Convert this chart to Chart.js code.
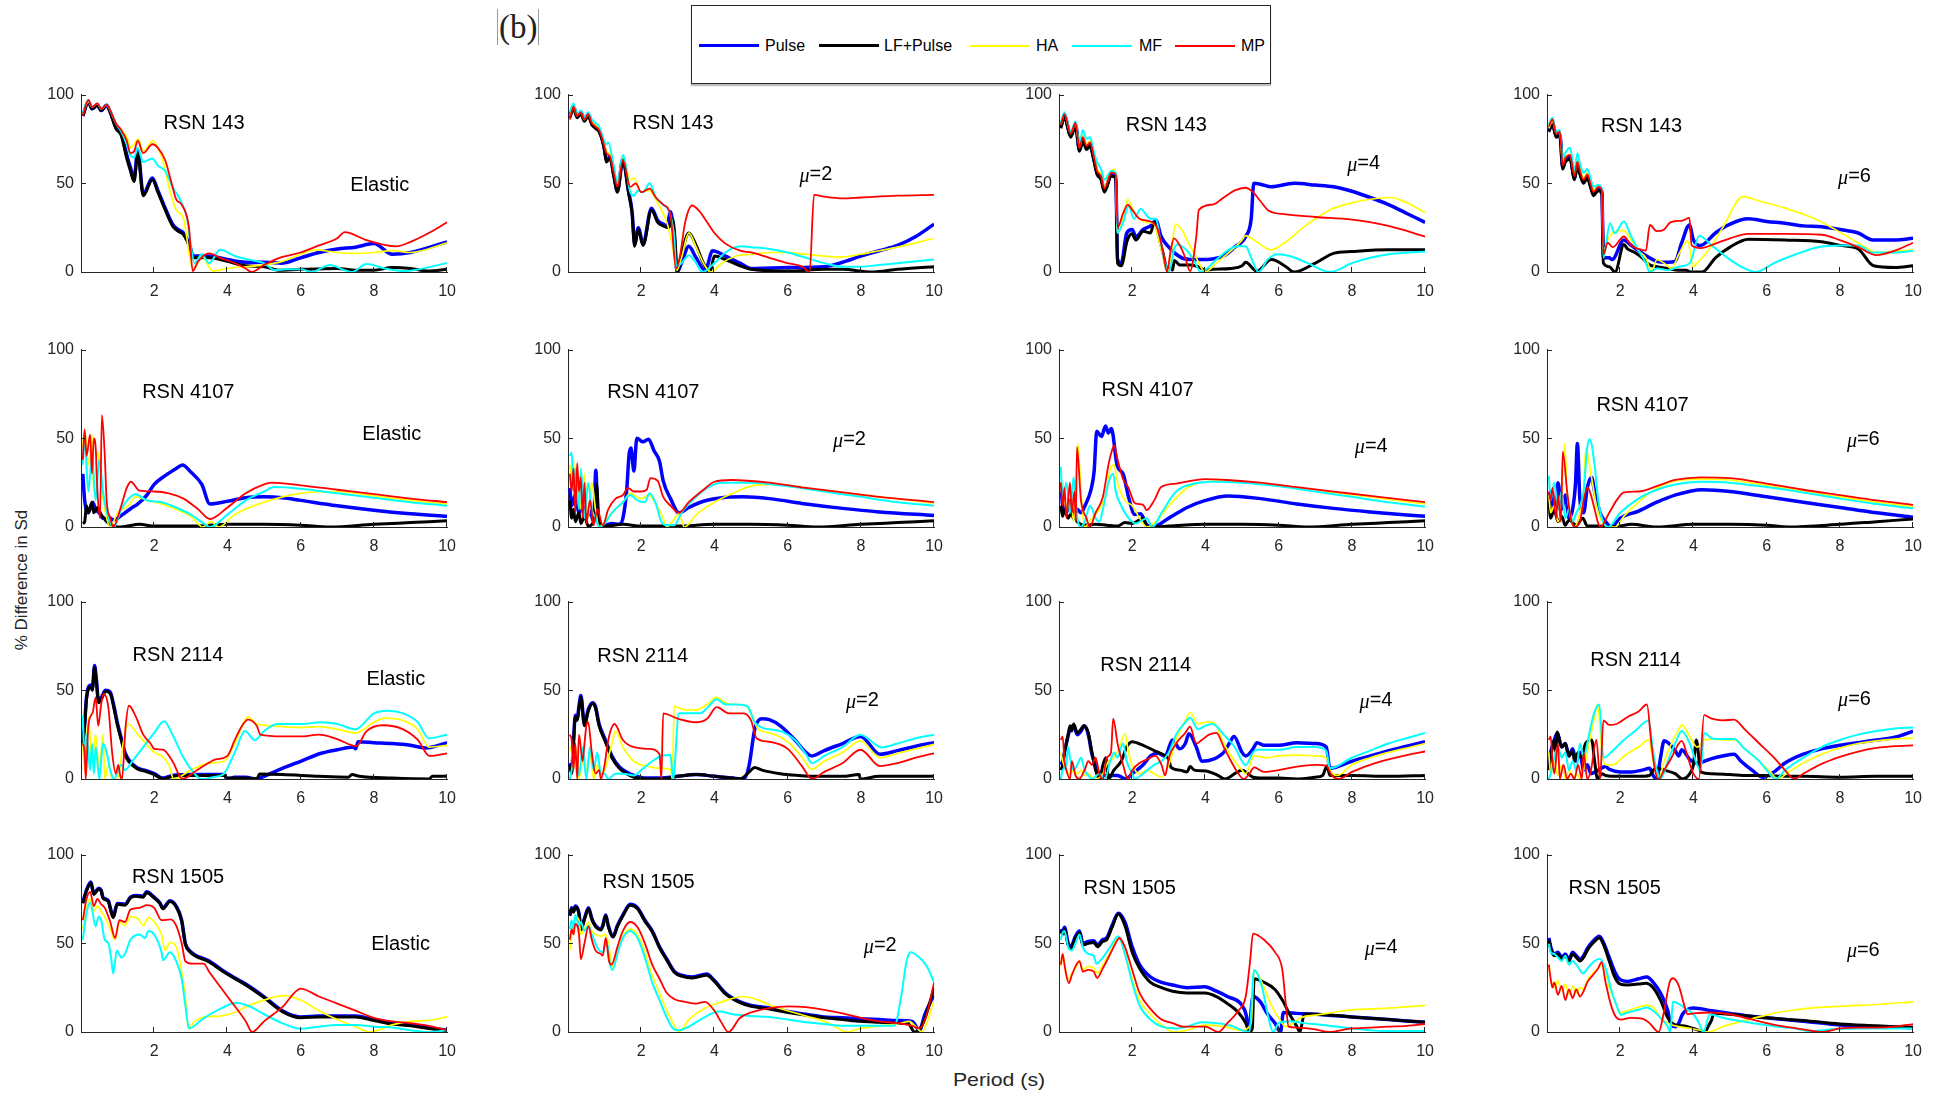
<!DOCTYPE html>
<html>
<head>
<meta charset="utf-8">
<script src="https://cdn.jsdelivr.net/npm/chart.js@4.4.0/dist/chart.umd.min.js"></script>
<style>
body{margin:0;background:#fff;font-family:"Liberation Sans",Arial,sans-serif;}
#page{position:relative;width:1945px;height:1094px;overflow:hidden;background:#fff;}
canvas{position:absolute;}
.legend{position:absolute;left:691px;top:5px;width:578px;height:77px;border:1px solid #262626;box-shadow:0 2px 1px #bdbdbd;background:#fff;}
.lg-line{position:absolute;height:3px;}
.lg-text{position:absolute;font-size:16px;color:#000;line-height:16px;}
.tag{position:absolute;left:497px;top:9px;font-family:"Liberation Serif",serif;font-size:33px;line-height:36px;color:#222;border-left:1px solid #999;border-right:1px solid #999;padding:0 1px;}
.ytitle{position:absolute;left:22px;top:580px;transform:translate(-50%,-50%) rotate(-90deg);font-size:17px;color:#262626;white-space:nowrap;}
.xtitle{position:absolute;left:999px;top:1080px;transform:translate(-50%,-50%) scaleX(1.12);font-size:19px;color:#262626;white-space:nowrap;}
</style>
</head>
<body>
<div id="page">
  <div class="tag">(b)</div>
  <div class="legend" id="legend"></div>
  <div class="ytitle">% Difference in Sd</div>
  <div class="xtitle">Period (s)</div>
</div>
<script>
// tick values and names
const xTicks = [2, 4, 6, 8, 10];
const yTicks = [0, 50, 100];
const seriesNames = ['Pulse', 'LF+Pulse', 'HA', 'MF', 'MP'];
const rsnNames = ['RSN 143', 'RSN 4107', 'RSN 2114', 'RSN 1505'];
const caseNames = ['Elastic', '2', '4', '6'];   // ductility mu (Elastic first)

// ---- RSN 143 ----
const rsn143_el_pulse = [[0.05,88],[0.2,96],[0.3,92],[0.45,94],[0.55,91],[0.7,94],[0.8,90],[0.95,82],[1.1,78],[1.25,66],[1.35,59],[1.45,53],[1.55,69],[1.7,44],[1.95,53],[2.1,46],[2.3,36],[2.5,27],[2.65,24],[2.8,22],[3.0,13],[3.05,9],[3.2,9],[3.5,9],[4.0,7],[4.5,5.5],[5.0,5.5],[5.5,5],[6.0,8],[6.5,11],[7.0,13],[7.5,14],[8.0,16],[8.5,10],[9.0,11],[10,17]];
const rsn143_el_lf = [[0.05,88],[0.2,96],[0.3,92],[0.45,94],[0.55,91],[0.7,94],[0.8,90],[0.95,81],[1.1,77],[1.25,64],[1.35,57],[1.45,51],[1.55,67],[1.7,43],[1.95,52],[2.1,45],[2.3,35],[2.5,26],[2.65,23],[2.8,21],[3.0,12],[3.05,8],[3.5,8],[4.0,6],[4.5,3.5],[5.0,3],[5.4,1],[6.0,1.5],[7.0,2],[7.5,1],[8.0,1],[8.5,2.5],[9.0,2],[9.5,0.5],[10,1.5]];
const rsn143_el_ha = [[0.05,89],[0.2,96],[0.3,93],[0.45,95],[0.55,92],[0.7,94],[0.8,91],[0.95,84],[1.1,80],[1.25,76],[1.35,70],[1.45,72],[1.56,75],[1.7,68],[1.96,74],[2.1,70],[2.25,62],[2.4,48],[2.6,35],[2.8,30],[3.0,5],[3.1,2],[3.3,9],[3.6,0.5],[4.0,2],[5.0,4],[5.5,6],[6.0,10],[6.4,12.5],[7.0,11],[7.5,10.5],[8.0,11],[8.5,12],[9.0,11],[10,16.5]];
const rsn143_el_mf = [[0.05,90],[0.2,97],[0.3,93],[0.45,95],[0.55,92],[0.7,94],[0.8,91],[0.95,84],[1.1,79],[1.25,72],[1.35,66],[1.45,64.5],[1.55,70],[1.7,62],[1.95,64],[2.1,60],[2.3,57],[2.5,48],[2.7,41],[2.9,30],[3.0,15],[3.1,5],[3.3,10],[3.5,5],[3.8,12.5],[4.2,9],[4.7,6.5],[5.0,5],[5.3,1],[5.6,1.5],[6.0,1.5],[6.3,0],[6.8,4],[7.2,1],[7.4,0],[7.8,4.5],[8.3,2],[8.8,0.5],[10,5]];
const rsn143_el_mp = [[0.05,88],[0.2,97],[0.3,93],[0.45,95],[0.55,92],[0.7,94],[0.8,91],[0.95,84],[1.1,80],[1.25,74],[1.35,67],[1.45,68],[1.55,74],[1.7,67],[1.95,72],[2.1,70],[2.3,63],[2.45,52],[2.6,41],[2.75,38],[2.95,25],[3.05,0.5],[3.2,6],[3.5,10.5],[3.8,8],[4.2,5],[4.5,2],[4.65,0],[5.0,4],[5.3,7],[5.5,8.5],[6.0,11],[6.5,15],[7.0,19],[7.2,22.5],[7.8,18],[8.6,14.5],[9.0,17],[9.5,22],[10,28]];

const rsn143_m2_pulse = [[0.05,88],[0.15,93],[0.25,88],[0.35,90],[0.45,86],[0.55,89],[0.65,84],[0.75,82],[0.85,80],[0.95,74],[1.0,69],[1.05,63],[1.15,65],[1.25,55],[1.35,46],[1.5,64],[1.65,46],[1.75,34],[1.82,16],[1.92,25],[2.05,16],[2.28,36],[2.45,29],[2.6,27],[2.7,26],[2.8,34],[2.9,20],[2.98,0],[3.1,5],[3.3,14.5],[3.5,8],[3.75,1],[3.95,12],[4.3,9],[4.7,5],[5.0,2],[6.0,2.5],[7.0,3],[7.5,5.5],[8.0,9],[8.5,12],[9.0,15],[9.5,20],[10,27]];
const rsn143_m2_lf = [[0.05,87],[0.15,92],[0.25,87],[0.35,89],[0.45,85],[0.55,88],[0.65,83],[0.75,81],[0.85,79],[0.95,73],[1.0,68],[1.05,62],[1.15,64],[1.25,54],[1.35,45],[1.5,63],[1.65,45],[1.75,33],[1.82,14.5],[1.92,24],[2.05,15],[2.28,35],[2.45,28],[2.6,26],[2.75,25],[2.85,30],[2.92,20],[2.98,0],[3.1,10],[3.3,22],[3.5,15],[3.7,5],[3.88,0],[4.0,9],[4.3,7],[4.7,3.5],[5.0,1.5],[6.0,0.5],[7.0,1.5],[7.5,1.5],[8.3,0],[9.0,1.5],[10,3]];
const rsn143_m2_ha = [[0.05,88],[0.15,93],[0.25,88],[0.35,90],[0.45,86],[0.55,89],[0.65,85],[0.75,83],[0.85,81],[0.95,76],[1.05,68],[1.15,66],[1.25,57],[1.35,50],[1.5,65],[1.7,52],[1.8,53],[2.0,45],[2.2,46],[2.5,37],[2.7,28],[2.85,15],[2.97,1],[3.1,8],[3.3,22],[3.5,14],[3.7,5],[3.9,0],[4.2,5],[4.6,9],[5.0,10],[5.5,11],[6.0,11],[6.5,10],[7.0,9],[7.5,8.5],[8.0,10],[8.5,12],[9.0,14],[10,19]];
const rsn143_m2_mf = [[0.05,90],[0.15,95],[0.25,89],[0.35,91],[0.45,87],[0.55,90],[0.65,86],[0.75,84],[0.85,82],[0.95,76],[1.05,72],[1.1,73],[1.25,60],[1.35,50],[1.5,66],[1.7,45],[1.8,43],[1.91,46],[2.05,45],[2.23,50],[2.4,42],[2.6,38],[2.8,32],[2.9,20],[2.96,3],[3.1,5],[3.3,9.5],[3.5,5],[3.66,0],[4.0,5],[4.3,11],[4.7,14.5],[5.0,14],[5.5,13],[6.0,11],[6.5,8],[7.0,5],[7.5,3],[8.0,3],[8.5,4],[9.0,5],[10,7]];
const rsn143_m2_mp = [[0.05,86],[0.15,93],[0.25,88],[0.35,90],[0.45,86],[0.55,89],[0.65,84],[0.75,82],[0.85,80],[0.95,74],[1.05,67],[1.15,65],[1.25,56],[1.35,48],[1.5,63],[1.7,48],[1.85,50],[2.0,45],[2.23,47],[2.4,42],[2.6,38],[2.8,32],[2.95,2],[3.05,8],[3.2,28],[3.39,37.5],[3.6,34],[3.8,28],[4.0,22],[4.3,16],[4.7,12],[5.0,11],[5.5,8],[6.0,5],[6.4,3],[6.6,0],[6.72,43.5],[7.0,42.5],[7.5,41.5],[8.0,42],[9.0,43],[10,43.5]];

const rsn143_m4_pulse = [[0.05,82],[0.15,88],[0.32,77],[0.45,83],[0.56,69],[0.65,75],[0.75,70],[0.85,72],[0.95,64],[1.04,56],[1.15,53],[1.24,46],[1.43,55],[1.55,54],[1.6,7],[1.7,5],[1.85,22],[2.0,24],[2.1,20],[2.3,24],[2.5,26],[2.65,29],[2.79,20],[3.0,14],[3.2,10],[3.42,7.5],[3.8,7],[4.22,7.5],[4.5,9],[4.8,14],[5.1,20],[5.25,30],[5.32,50],[5.5,49.5],[5.8,48],[6.42,50],[7.0,49],[7.5,48],[8.0,45.5],[8.5,42],[9.0,38],[9.5,33],[10,28]];
const rsn143_m4_lf = [[0.05,81],[0.15,87],[0.32,76],[0.45,82],[0.56,68],[0.65,74],[0.75,69],[0.85,71],[0.95,63],[1.04,55],[1.15,52],[1.24,45],[1.43,54],[1.55,53],[1.6,5],[1.7,3.5],[1.86,17.5],[1.99,21.5],[2.1,18],[2.3,23],[2.5,22],[2.6,28],[2.75,18],[2.85,10],[2.95,2],[3.05,3],[3.1,1],[3.15,6.5],[3.3,4],[3.6,4],[3.8,3],[4.0,1],[4.2,1.5],[4.7,2],[5.0,3.5],[5.1,5.5],[5.4,0.5],[5.8,7],[6.2,3],[6.42,0],[7.0,5],[7.5,10.5],[8.0,11.5],[9.0,12.5],[10,12.5]];
const rsn143_m4_ha = [[0.05,83],[0.15,89],[0.32,78],[0.45,84],[0.56,70],[0.65,77],[0.75,72],[0.85,74],[0.95,66],[1.04,58],[1.15,55],[1.24,48],[1.43,57],[1.55,58],[1.59,22],[1.75,30],[1.88,41],[2.0,36],[2.2,30],[2.4,28],[2.6,27],[2.7,20],[2.85,8],[2.95,0],[3.05,8],[3.18,27],[3.35,24],[3.5,18],[3.7,10],[3.9,2],[3.98,0],[4.3,5],[4.7,12],[5.0,18],[5.1,20.5],[5.4,17],[5.78,12.5],[6.2,17],[6.6,24],[7.0,30],[7.45,35.5],[8.0,39],[8.5,41],[9.07,42],[9.5,39],[10,33.5]];
const rsn143_m4_mf = [[0.05,84],[0.15,90],[0.32,79],[0.45,85],[0.56,72],[0.65,80],[0.75,75],[0.85,76],[0.95,68],[1.04,62],[1.15,58],[1.24,52],[1.43,57],[1.55,56],[1.59,22],[1.75,28],[1.9,37],[2.05,30],[2.23,35.5],[2.5,30],[2.65,30],[2.75,20],[2.9,5],[3.0,0],[3.15,13],[3.23,15.5],[3.5,12],[3.7,6],[3.87,0],[4.3,7],[4.6,12],[4.86,14.5],[5.1,14.5],[5.25,8],[5.45,0],[5.7,7],[5.97,10],[6.3,9],[6.8,5],[7.4,0],[8.0,5],[8.5,8],[9.0,10],[10,11.5]];
const rsn143_m4_mp = [[0.05,83],[0.15,89],[0.32,78],[0.45,84],[0.56,70],[0.65,76],[0.75,71],[0.85,73],[0.95,65],[1.04,57],[1.15,54],[1.24,47],[1.43,56],[1.55,55],[1.6,25],[1.75,33],[1.88,38],[2.0,35],[2.2,30],[2.4,29],[2.55,28],[2.7,24],[2.85,10],[2.95,0],[3.05,12],[3.14,19],[3.3,15],[3.45,8],[3.58,0.5],[3.75,20],[3.82,35],[4.2,38],[4.5,42],[4.8,46],[5.1,47.5],[5.3,45],[5.5,40],[5.73,34.5],[6.2,32.5],[7.0,31],[8.0,29.5],[9.0,26],[10,20]];

const rsn143_m6_pulse = [[0.05,80],[0.15,84],[0.25,77],[0.35,78],[0.43,59],[0.5,63],[0.63,64.5],[0.75,53],[0.83,61],[0.9,56],[1.0,51],[1.1,54],[1.2,48],[1.27,44],[1.4,47],[1.5,45],[1.54,8],[1.7,8],[1.78,7],[2.1,18],[2.3,15],[2.5,12],[2.8,8],[3.0,6],[3.3,5.5],[3.5,6],[3.68,16.5],[3.89,26.5],[4.0,18],[4.2,15],[4.6,22],[5.0,27],[5.5,30],[6.0,28.5],[6.5,27.5],[7.0,26],[7.5,25.5],[8.0,24],[8.5,22],[8.9,18],[9.5,18],[10,19]];
const rsn143_m6_lf = [[0.05,79],[0.15,83],[0.25,76],[0.35,77],[0.43,58],[0.5,62],[0.63,63.5],[0.75,52],[0.83,60],[0.9,55],[1.0,50],[1.1,53],[1.2,47],[1.27,43],[1.4,46],[1.5,44],[1.54,5],[1.7,3],[1.86,0],[2.1,15.5],[2.2,13],[2.4,11],[2.6,8],[2.8,4],[3.0,3],[3.3,2],[3.6,1],[3.8,1],[3.92,0],[4.24,0],[4.6,8],[5.0,14],[5.5,18.5],[6.5,18],[7.5,17],[8.0,15],[8.5,13],[8.92,3.5],[9.5,2.5],[10,3.5]];
const rsn143_m6_ha = [[0.05,81],[0.15,85],[0.25,78],[0.35,79],[0.43,61],[0.5,65],[0.63,66],[0.75,55],[0.83,63],[0.9,58],[1.0,53],[1.1,56],[1.2,50],[1.27,46],[1.4,49],[1.5,47],[1.54,12],[1.7,20],[2.1,23.5],[2.3,18],[2.5,12],[2.7,8],[2.86,0],[3.0,7],[3.2,5],[3.4,2],[3.6,10],[3.84,17.5],[4.0,3],[4.1,5],[4.4,12],[4.8,25],[5.35,42.5],[5.8,40],[6.5,36],[7.2,31],[7.7,26],[8.2,20],[8.7,14],[9.0,11],[10,12.5]];
const rsn143_m6_mf = [[0.05,83],[0.15,87],[0.25,79],[0.35,80],[0.43,63],[0.5,67],[0.63,70],[0.75,57],[0.83,67],[0.9,61],[1.0,56],[1.1,58],[1.2,52],[1.27,48],[1.4,49],[1.5,47],[1.54,8],[1.72,27.5],[1.85,22],[2.1,28.5],[2.3,20],[2.5,12],[2.7,5],[2.8,0],[3.0,2],[3.3,1],[3.6,3],[3.9,5],[4.16,20.5],[4.5,15],[5.0,7],[5.4,2],[5.71,0],[6.2,5],[6.8,10],[7.4,14],[8.0,15],[8.5,15],[8.9,11],[9.5,11],[10,12]];
const rsn143_m6_mp = [[0.05,82],[0.15,86],[0.25,78],[0.35,79],[0.43,60],[0.5,64],[0.63,66],[0.75,54],[0.83,62],[0.9,57],[1.0,52],[1.1,55],[1.2,49],[1.27,45],[1.4,48],[1.5,46],[1.54,10],[1.66,16.5],[1.8,14],[2.1,20],[2.3,15],[2.5,13],[2.7,12],[2.81,26.5],[3.0,23],[3.2,24],[3.37,28],[3.7,29],[3.89,30.5],[3.95,15],[4.2,13.5],[4.6,16],[5.0,19],[5.5,21.5],[6.5,21.5],[7.5,21],[8.0,18],[8.5,14],[9.0,9.5],[9.5,12],[10,16.5]];

// ---- RSN 4107 ----
const rsn4107_el_pulse = [[0.05,30],[0.1,15],[0.2,8],[0.32,14],[0.4,10],[0.5,8],[0.6,5],[0.8,5],[0.88,4],[1.0,5],[1.2,8],[1.4,11],[1.52,12.5],[1.8,18],[2.0,24],[2.3,29],[2.6,33],[2.77,35],[3.0,31],[3.3,24],[3.52,13],[4.0,14.5],[4.5,16.5],[5.0,17],[5.5,16.5],[6.0,15],[7.0,12],[8.0,9.5],[9.0,7.5],[10,6]];
const rsn4107_el_lf = [[0.05,2],[0.1,3],[0.15,12],[0.2,8],[0.3,14],[0.35,8],[0.45,11],[0.55,7],[0.7,3],[0.9,0.5],[1.0,0],[1.2,0.3],[1.6,1.5],[2.0,0.5],[3.0,0.5],[4.0,1.5],[5.0,1.5],[6.0,1],[6.8,0],[8.0,1.5],[9.0,2.5],[10,3.5]];
const rsn4107_el_ha = [[0.05,45],[0.1,55],[0.2,35],[0.3,52],[0.35,20],[0.45,43],[0.55,25],[0.65,10],[0.8,0],[1.0,8],[1.3,12],[1.5,17],[1.8,15],[2.2,13],[2.6,10],[3.0,6],[3.33,0],[3.55,3],[3.76,0],[4.2,7],[5.0,14],[6.0,19],[7.0,20],[8.0,17.5],[9.0,15],[10,13]];
const rsn4107_el_mf = [[0.05,35],[0.1,50],[0.2,20],[0.3,40],[0.4,15],[0.5,38],[0.6,20],[0.75,5],[0.9,0],[1.1,10],[1.3,16],[1.49,18.5],[1.8,15],[2.2,14],[2.6,11],[3.0,7],[3.35,2],[3.52,0],[4.0,7],[4.5,15],[5.0,20],[5.28,22.5],[6.0,21.5],[7.0,19],[8.0,16.5],[9.0,14],[10,12]];
const rsn4107_el_mp = [[0.05,38],[0.1,55],[0.15,40],[0.25,52],[0.3,30],[0.35,50],[0.4,45],[0.45,20],[0.52,5],[0.57,63],[0.65,40],[0.7,15],[0.8,5],[0.88,0],[1.1,12],[1.25,22],[1.36,25.5],[1.6,20.5],[2.0,20],[2.4,19],[2.8,16],[3.2,10],[3.52,4.5],[4.0,11],[4.5,19],[5.0,24],[5.2,25],[6.0,23.5],[7.0,21],[8.0,18.5],[9.0,16],[10,14]];

const rsn4107_m2_pulse = [[0.05,22],[0.1,12],[0.2,18],[0.3,8],[0.4,12],[0.5,5],[0.6,9],[0.7,3],[0.76,32],[0.82,3],[1.0,1],[1.2,2],[1.4,1.5],[1.5,5],[1.6,20],[1.67,41],[1.72,44.5],[1.8,31.5],[1.88,50],[2.05,48],[2.2,49.5],[2.35,43],[2.5,37],[2.6,26],[2.8,16],[3.03,8],[3.3,11],[3.7,14.5],[4.2,16.5],[4.78,17],[5.5,16],[6.5,13],[7.5,10.5],[8.5,8.5],[10,6.5]];
const rsn4107_m2_lf = [[0.05,15],[0.1,5],[0.15,10],[0.2,3],[0.3,8],[0.35,2],[0.45,6],[0.55,0.5],[0.7,3],[0.78,24],[0.85,3],[1.0,0.5],[1.5,1.5],[2.0,0.5],[3.0,0.5],[4.0,1.5],[5.0,1.5],[6.0,1],[6.8,0],[8.0,1.5],[9.0,2.5],[10,3.5]];
const rsn4107_m2_ha = [[0.05,35],[0.1,25],[0.15,38],[0.2,15],[0.25,30],[0.35,10],[0.45,30],[0.55,5],[0.65,25],[0.75,10],[0.85,0],[1.0,3],[1.2,8],[1.5,14],[1.7,19],[2.0,16],[2.2,18],[2.4,13],[2.6,5],[2.7,0],[2.85,3],[3.03,7.5],[3.18,0],[3.5,7],[4.0,14],[4.5,19],[5.0,23],[5.5,24],[6.5,22],[7.5,19.5],[8.5,17],[10,13.5]];
const rsn4107_m2_mf = [[0.05,40],[0.1,42],[0.15,20],[0.2,33],[0.3,10],[0.35,33],[0.45,5],[0.55,25],[0.65,10],[0.75,5],[0.85,0],[1.0,2],[1.2,8],[1.5,14],[1.7,18],[1.9,15],[2.1,14],[2.23,19],[2.4,13],[2.55,3],[2.7,1],[2.9,1],[3.1,8],[3.4,15],[3.8,22],[4.22,25],[5.0,25],[6.0,23],[7.0,20],[8.0,17],[9.0,14],[10,12]];
const rsn4107_m2_mp = [[0.05,30],[0.1,20],[0.15,33],[0.2,8],[0.25,36],[0.3,20],[0.35,28],[0.4,5],[0.45,25],[0.5,2],[0.6,15],[0.7,1],[0.8,10],[0.95,1],[1.1,10],[1.3,16],[1.5,18],[1.64,22],[1.8,20],[2.0,20],[2.15,21],[2.25,27.5],[2.45,26],[2.6,17],[2.8,12],[3.03,8],[3.3,14],[3.7,21],[4.0,25.5],[4.46,26.5],[5.5,25],[6.5,22],[7.5,19.5],[8.5,17],[10,14]];

const rsn4107_m4_pulse = [[0.05,25],[0.1,12],[0.2,8],[0.3,15],[0.4,5],[0.5,10],[0.6,8],[0.72,12.5],[0.88,21.5],[0.96,31.5],[1.03,54],[1.16,51],[1.27,57],[1.35,53],[1.43,55.5],[1.59,34.5],[1.75,30],[1.91,16],[2.07,7],[2.23,7.5],[2.39,1.5],[2.55,0],[3.0,5],[3.5,11],[4.0,15],[4.62,17.5],[5.5,16],[6.5,13],[7.5,10.5],[8.5,8.5],[10,6]];
const rsn4107_m4_lf = [[0.05,12],[0.1,6],[0.15,10],[0.25,5],[0.35,8],[0.5,3],[0.7,1],[1.0,1.5],[1.3,1],[1.6,0.5],[1.8,2.5],[2.0,2],[2.2,4],[2.3,5],[2.4,0],[3.0,0.5],[4.0,1.5],[5.0,1.5],[6.0,1],[6.8,0],[8.0,1.5],[9.0,2.5],[10,3.5]];
const rsn4107_m4_ha = [[0.05,20],[0.1,25],[0.2,10],[0.3,22],[0.4,3],[0.45,15],[0.51,47],[0.6,20],[0.7,0],[0.9,5],[1.1,10],[1.3,20],[1.39,32],[1.5,35],[1.6,25],[1.8,15],[2.0,12],[2.2,5],[2.4,0],[2.7,4],[3.0,12],[3.5,22],[4.0,25.5],[4.6,26],[5.5,24.5],[6.5,22],[7.5,19.5],[8.5,17],[10,13]];
const rsn4107_m4_mf = [[0.05,34],[0.1,15],[0.2,25],[0.3,8],[0.4,28],[0.5,5],[0.6,0],[0.7,3],[0.85,12],[1.0,5],[1.1,3],[1.2,10],[1.35,25],[1.48,30],[1.55,20],[1.7,12],[1.9,5],[2.1,2],[2.4,5],[2.55,0],[2.8,8],[3.2,20],[3.6,24],[4.2,25.5],[5.0,25],[6.0,23],[7.0,20],[8.0,17],[9.0,14],[10,11.5]];
const rsn4107_m4_mp = [[0.05,25],[0.1,12],[0.15,22],[0.2,5],[0.3,25],[0.35,8],[0.42,20],[0.46,3],[0.49,45],[0.6,15],[0.75,5],[0.84,0],[1.0,8],[1.2,17],[1.35,35],[1.43,42],[1.51,46],[1.6,38],[1.75,27],[1.9,22],[2.05,14],[2.15,13],[2.3,12.5],[2.39,9.5],[2.6,15],[2.79,22.5],[3.2,24.5],[3.6,26],[4.0,27],[4.6,26.5],[5.5,25],[6.5,22.5],[7.5,20],[8.5,17.5],[10,14]];

const rsn4107_m6_pulse = [[0.05,12],[0.1,20],[0.2,8],[0.3,25],[0.4,10],[0.5,18],[0.6,5],[0.7,10],[0.78,25],[0.83,47],[0.9,15],[1.0,8],[1.1,22],[1.22,28],[1.3,20],[1.45,8],[1.6,3],[1.75,0],[2.0,5],[2.5,9],[3.0,14],[3.5,18],[4.24,21],[5.0,20],[6.0,17],[7.0,14],[8.0,11],[9.0,8],[10,5.5]];
const rsn4107_m6_lf = [[0.05,15],[0.1,5],[0.2,10],[0.3,3],[0.4,6],[0.5,1],[0.6,4],[0.8,1],[0.98,5],[1.1,0.5],[1.4,0.5],[1.7,0],[2.0,0.5],[2.3,1.5],[3.0,0],[4.0,1.5],[5.0,1.5],[6.0,1],[6.6,0],[8.0,1.5],[9.0,3],[10,4.5]];
const rsn4107_m6_ha = [[0.05,18],[0.1,8],[0.2,12],[0.3,3],[0.4,15],[0.48,47],[0.55,20],[0.65,5],[0.75,0],[0.9,8],[1.0,20],[1.06,44.5],[1.2,30],[1.35,12],[1.5,3],[1.7,0],[1.86,0],[2.1,6],[2.5,14],[3.0,22],[3.5,26],[4.2,27],[5.0,26.5],[6.0,23.5],[7.0,20.5],[8.0,17],[9.0,14],[10,11.5]];
const rsn4107_m6_mf = [[0.05,29],[0.1,15],[0.2,25],[0.3,10],[0.4,20],[0.5,5],[0.6,10],[0.7,3],[0.8,8],[0.9,12],[1.0,20],[1.1,45],[1.17,49.5],[1.3,35],[1.4,15],[1.5,5],[1.67,0],[2.0,8],[2.5,16],[3.0,21],[3.5,24],[4.2,25.5],[5.0,25],[6.0,22.5],[7.0,19.5],[8.0,16],[9.0,13],[10,10.5]];
const rsn4107_m6_mp = [[0.05,20],[0.1,15],[0.15,22],[0.25,5],[0.3,18],[0.38,3],[0.43,42.5],[0.55,20],[0.65,5],[0.75,0],[0.9,3],[1.0,15],[1.11,22.5],[1.2,18],[1.3,10],[1.4,2],[1.46,0],[1.7,8],[1.9,15],[2.1,19.5],[2.5,20],[3.0,23],[3.5,26.5],[4.2,28],[5.0,27.5],[6.0,24.5],[7.0,21],[8.0,18],[9.0,15],[10,12.5]];

// ---- RSN 2114 ----
const rsn2114_el_pulse = [[0.05,21],[0.1,31],[0.15,46],[0.27,53],[0.31,51],[0.37,64],[0.42,56],[0.48,44],[0.58,47],[0.67,50],[0.8,49],[0.9,41],[1.0,31],[1.1,23],[1.2,15],[1.3,11],[1.52,6.5],[1.8,4.5],[2.0,3],[2.24,0.5],[2.5,2],[3.0,2.5],[3.5,2.5],[3.9,2.5],[4.0,0],[4.2,1],[4.5,1],[4.8,0],[5.0,1.5],[5.5,6],[6.0,10],[6.56,14.5],[7.0,16.5],[7.45,18],[7.5,17],[7.57,21],[8.0,20.5],[8.5,20],[9.0,19],[9.4,17.5],[9.6,18],[10,20.5]];
const rsn2114_el_lf = [[0.05,20],[0.1,30],[0.15,45],[0.27,52],[0.31,50],[0.37,63],[0.42,55],[0.48,43],[0.58,46],[0.67,49.5],[0.8,48],[0.9,40],[1.0,30],[1.1,22],[1.2,14],[1.3,10],[1.52,6],[1.8,4],[2.0,2.5],[2.24,0],[2.5,1.5],[3.0,2],[3.5,2],[3.9,2],[4.0,0.5],[4.5,0.5],[4.8,0],[4.88,2.8],[5.5,2.5],[6.5,1.5],[7.3,1],[7.4,2.5],[7.6,1.5],[8.5,0.5],[9.5,0],[9.6,1.5],[10,1.5]];
const rsn2114_el_ha = [[0.05,20],[0.1,5],[0.2,35],[0.3,10],[0.4,25],[0.5,5],[0.6,25],[0.65,0],[0.75,8],[0.85,0],[1.0,0],[1.15,20],[1.28,31],[1.6,24],[2.0,15],[2.2,13],[2.4,8],[2.53,0],[3.0,5],[3.5,9],[3.9,10],[4.2,20],[4.45,32],[4.56,35],[4.8,31],[5.2,30],[6.0,29],[6.5,29.5],[7.0,28],[7.5,26],[8.0,32],[8.32,34.3],[8.8,33],[9.2,28],[9.5,18],[10,19]];
const rsn2114_el_mf = [[0.05,36],[0.1,10],[0.15,25],[0.25,5],[0.3,20],[0.35,3],[0.4,18],[0.5,0],[0.6,20],[0.7,15],[0.8,5],[0.9,0],[1.1,8],[1.2,5],[1.4,10],[1.7,18],[2.0,26],[2.27,32.5],[2.5,25],[2.8,12],[3.1,3],[3.28,0],[3.6,1],[3.9,3],[4.2,15],[4.48,27],[4.75,22],[5.0,27],[5.36,31],[6.0,31],[6.56,32],[7.0,31],[7.5,28],[8.0,37],[8.4,38.5],[8.8,37],[9.2,32],[9.5,23],[10,25]];
const rsn2114_el_mp = [[0.05,20],[0.1,15],[0.13,0],[0.2,30],[0.32,37.5],[0.4,46],[0.47,30],[0.55,42],[0.62,48],[0.75,40],[0.85,15],[0.95,3],[1.02,8],[1.07,2],[1.12,0],[1.22,30],[1.31,41.3],[1.5,35],[1.7,25],[1.9,20],[2.0,17],[2.24,16.5],[2.5,10],[2.77,0],[3.1,4],[3.4,8],[3.68,11],[4.0,13],[4.2,22],[4.4,30],[4.56,33.5],[4.8,30],[4.9,25],[5.5,24],[6.0,24],[6.5,25],[7.0,22.5],[7.52,18.5],[7.8,27],[8.24,30.3],[8.8,28],[9.2,22],[9.52,13],[10,14.5]];

const rsn2114_m2_pulse = [[0.05,9],[0.1,4],[0.15,21],[0.2,36],[0.25,34],[0.3,41],[0.35,47],[0.45,31],[0.55,39],[0.67,43],[0.75,41],[0.85,31],[1.0,23],[1.2,13],[1.4,7],[1.6,4],[1.8,2],[2.15,0.5],[2.5,0.5],[3.0,1.5],[3.5,2.5],[4.0,1.5],[4.5,0.5],[4.8,0],[4.95,8],[5.1,28],[5.29,34],[5.5,33.5],[5.8,30],[6.2,22],[6.5,15],[6.66,13],[7.0,16],[7.5,20],[7.99,24],[8.52,14],[9.0,16],[9.5,18.5],[10,20.5]];
const rsn2114_m2_lf = [[0.05,8],[0.1,3],[0.15,20],[0.2,35],[0.25,33],[0.3,40],[0.35,46],[0.45,30],[0.55,38],[0.67,42.5],[0.75,40],[0.85,30],[1.0,22],[1.2,12],[1.4,6],[1.6,3],[1.8,1],[2.15,0],[2.5,0],[3.0,1.5],[3.5,2.5],[4.0,1.5],[4.5,0.5],[4.7,0],[4.95,4],[5.1,6.5],[5.3,5],[5.8,3],[6.3,2],[6.7,1.5],[7.5,1.5],[7.95,2.5],[7.99,0],[8.5,1.5],[10,1.5]];
const rsn2114_m2_ha = [[0.05,18],[0.1,15],[0.15,5],[0.2,18],[0.3,0],[0.4,10],[0.5,5],[0.6,15],[0.7,0],[0.8,8],[0.9,3],[1.0,5],[1.2,20],[1.3,27],[1.5,18],[1.8,10],[2.2,7],[2.6,6],[2.8,5.5],[2.85,0],[2.9,41],[3.2,39],[3.5,39],[3.8,42],[4.06,46],[4.3,43],[4.5,42],[4.8,42],[5.0,37],[5.2,28],[5.5,26],[6.0,21],[6.4,12],[6.66,5.5],[7.0,10],[7.5,15],[7.99,21.5],[8.52,12],[9.0,14.5],[9.5,17],[10,19.5]];
const rsn2114_m2_mf = [[0.05,0],[0.1,5],[0.2,15],[0.3,2],[0.4,18],[0.5,0],[0.6,18],[0.7,5],[0.8,15],[0.9,3],[1.0,3],[1.1,0],[1.3,3],[1.5,3],[1.8,2],[2.0,5],[2.3,10],[2.55,13],[2.8,13.5],[2.87,0],[3.03,37],[3.3,37],[3.6,37],[3.8,40],[4.06,45],[4.3,42],[4.6,42],[4.9,41],[5.1,32],[5.3,29],[5.8,27],[6.2,22],[6.5,14],[6.66,9],[7.0,13],[7.5,18],[7.99,25],[8.57,17.8],[9.0,20],[9.5,23],[10,25]];
const rsn2114_m2_mp = [[0.05,25],[0.1,22],[0.15,5],[0.2,20],[0.25,0],[0.3,25],[0.4,10],[0.45,20],[0.51,31],[0.55,32],[0.65,15],[0.75,3],[0.85,5],[0.9,0],[1.0,8],[1.1,22],[1.27,31],[1.5,22],[1.8,18],[2.2,17],[2.5,14],[2.55,0],[2.6,37],[3.0,34],[3.5,32],[3.8,34],[4.06,40.5],[4.4,37],[4.8,37],[5.0,33],[5.15,23],[5.5,21],[6.0,17],[6.4,7],[6.66,0],[7.0,4],[7.5,9],[7.99,16.5],[8.52,7.3],[9.0,9],[9.5,12],[10,14.5]];

const rsn2114_m4_pulse = [[0.05,8],[0.1,10],[0.2,20],[0.3,28],[0.4,30],[0.5,25],[0.6,27],[0.7,30],[0.8,25],[0.9,14],[1.0,8],[1.1,3],[1.3,2],[1.6,2],[1.83,0],[2.0,3],[2.3,8],[2.5,13],[2.7,14.5],[2.9,13],[3.1,22],[3.3,17],[3.45,20],[3.55,25.5],[3.75,18],[3.9,10],[4.2,11],[4.5,15],[4.65,20],[4.78,24],[5.0,15],[5.1,13],[5.3,17],[5.41,20.5],[5.6,19],[6.0,19],[6.5,20.5],[7.0,20],[7.3,18],[7.4,6],[8.0,10],[8.5,13],[9.0,16],[9.5,18.5],[10,21]];
const rsn2114_m4_lf = [[0.05,5],[0.1,8],[0.15,15],[0.2,20],[0.25,25],[0.3,30],[0.35,27],[0.4,31],[0.5,26],[0.6,28],[0.67,30],[0.8,26],[0.9,15],[1.0,5],[1.11,0],[1.2,8],[1.28,12],[1.35,0],[1.5,5],[1.7,10],[1.85,18],[1.99,21],[2.3,19],[2.6,16],[2.9,13],[3.0,11],[3.06,6.5],[3.3,5],[3.5,4],[3.58,7],[3.7,5],[4.0,4.5],[4.3,2.5],[4.54,0],[4.8,3],[5.0,5],[5.3,1],[5.5,0.5],[6.0,0.5],[6.5,0],[7.0,1],[7.2,2],[7.32,7.3],[7.4,2],[8.0,2],[9.0,1.5],[10,2]];
const rsn2114_m4_ha = [[0.05,15],[0.1,10],[0.2,5],[0.3,3],[0.4,5],[0.5,3],[0.6,5],[0.7,2],[0.8,3],[0.9,1],[1.0,0],[1.2,3],[1.35,10],[1.5,12],[1.65,18],[1.8,25.5],[1.9,15],[2.0,8],[2.2,3],[2.4,5],[2.6,3],[2.8,1],[3.0,8],[3.2,22],[3.45,33],[3.58,37.5],[3.8,31],[4.0,32],[4.22,32],[4.5,20],[4.8,10],[5.0,5],[5.1,3],[5.33,13],[5.7,12],[6.0,13],[6.5,13.5],[7.0,13],[7.3,12],[7.4,5],[7.6,2],[8.0,8],[8.5,12],[9.0,15],[9.5,17.5],[10,20]];
const rsn2114_m4_mf = [[0.05,0],[0.1,5],[0.2,8],[0.25,18],[0.3,12],[0.4,5],[0.5,8],[0.6,12],[0.7,5],[0.8,2],[0.9,0],[1.1,3],[1.25,0],[1.4,10],[1.5,15],[1.6,12],[1.75,20],[1.85,10],[2.0,3],[2.07,0],[2.3,3],[2.6,8],[2.8,10],[3.0,15],[3.2,25],[3.45,32],[3.58,34.5],[3.8,28],[4.0,30],[4.2,31],[4.5,25],[4.8,18],[5.0,10],[5.1,7.7],[5.3,15],[5.41,16.5],[6.0,16.5],[6.5,18],[7.0,18],[7.3,16],[7.4,6],[8.0,12],[8.5,16],[9.0,20],[9.5,23],[10,26]];
const rsn2114_m4_mp = [[0.05,22],[0.1,24],[0.15,10],[0.2,5],[0.3,0],[0.35,10],[0.45,2],[0.55,0],[0.7,5],[0.8,10],[0.9,8],[1.0,12],[1.1,3],[1.2,0],[1.3,12],[1.42,15],[1.48,34],[1.6,20],[1.75,8],[1.88,0],[2.0,5],[2.2,9],[2.4,11],[2.63,13],[2.8,8],[2.9,2],[3.0,12],[3.2,20],[3.45,26],[3.58,29.5],[3.75,20],[3.9,22],[4.1,25],[4.3,26],[4.5,18],[4.7,10],[4.9,3],[5.05,0],[5.2,3],[5.33,6.5],[5.6,4],[6.0,5],[6.5,7],[7.0,8],[7.3,7.5],[7.45,2],[7.64,0],[8.0,4],[8.5,8],[9.0,11],[9.5,13.5],[10,15.5]];

const rsn2114_m6_pulse = [[0.05,8],[0.1,15],[0.2,22],[0.28,26],[0.4,18],[0.5,20],[0.6,13],[0.7,17],[0.8,10],[0.9,15],[1.0,5],[1.1,8],[1.2,3],[1.4,5],[1.6,7],[1.7,5.5],[2.0,4],[2.3,4],[2.6,5],[2.8,6],[2.9,2],[3.0,0],[3.1,12],[3.2,21.5],[3.5,16],[3.6,13],[3.68,16.5],[3.9,11],[4.1,9],[4.3,10],[4.5,11.5],[4.8,13],[5.11,14],[5.3,10],[5.6,5],[5.9,1],[6.2,4],[6.5,9],[7.0,14],[7.5,17],[8.0,19],[8.5,20.5],[9.0,22],[9.5,23.5],[10,27]];
const rsn2114_m6_lf = [[0.05,5],[0.1,12],[0.15,18],[0.2,22],[0.24,15],[0.28,26.5],[0.4,18],[0.5,20],[0.6,13],[0.7,16],[0.75,10],[0.85,15],[0.95,12],[1.05,20],[1.22,22],[1.3,10],[1.38,0],[1.5,3],[1.6,2],[2.0,1.5],[2.5,1.5],[2.8,2],[2.9,5],[3.0,6],[3.2,5],[3.5,3],[3.7,0],[3.9,3],[4.0,8],[4.08,22],[4.2,4],[4.5,3],[5.0,2.5],[5.5,2],[6.0,2],[6.5,1.5],[7.0,1.5],[8.0,1],[9.0,1.5],[10,1.5]];
const rsn2114_m6_ha = [[0.05,15],[0.1,3],[0.2,10],[0.3,2],[0.4,8],[0.5,0],[0.6,5],[0.7,1],[0.8,3],[0.9,0],[1.0,5],[1.1,15],[1.2,25],[1.3,35],[1.38,42],[1.5,15],[1.6,8],[1.8,8],[2.1,13],[2.5,18],[2.78,22],[2.9,10],[3.05,0],[3.2,10],[3.4,20],[3.6,28],[3.68,30.5],[3.9,24],[4.1,18],[4.3,22],[4.5,22.5],[4.8,22],[5.11,22],[5.4,17],[5.8,10],[6.1,4],[6.3,0],[6.6,4],[7.0,9],[7.5,14],[8.0,17.5],[8.5,20],[9.0,21.5],[9.5,22.5],[10,23]];
const rsn2114_m6_mf = [[0.05,0],[0.1,3],[0.2,12],[0.3,18],[0.4,12],[0.5,15],[0.6,5],[0.7,10],[0.8,5],[0.9,20],[1.0,12],[1.1,20],[1.2,30],[1.3,38],[1.43,42],[1.54,12],[1.8,16],[2.1,22],[2.4,27],[2.78,33],[2.9,15],[3.0,5],[3.1,0],[3.3,10],[3.5,20],[3.68,27],[3.9,20],[4.1,8],[4.2,5],[4.29,26],[4.5,23],[4.8,22.5],[5.11,22.5],[5.4,17],[5.8,10],[6.0,5],[6.25,0],[6.5,5],[7.0,12],[7.5,18],[8.0,22],[8.5,25],[9.0,27],[9.5,28.5],[10,29]];
const rsn2114_m6_mp = [[0.05,22],[0.1,24],[0.15,10],[0.2,3],[0.3,20],[0.35,0],[0.45,8],[0.55,0],[0.65,3],[0.75,0],[0.85,8],[0.95,0],[1.0,15],[1.1,0],[1.2,5],[1.35,22],[1.45,0],[1.54,33],[1.7,30.5],[1.9,31],[2.2,35],[2.5,38],[2.73,42],[2.85,20],[2.95,5],[3.05,0],[3.2,5],[3.4,12],[3.6,20],[3.68,21.5],[3.85,12],[4.0,3],[4.15,0],[4.29,36],[4.5,34],[4.8,33],[5.11,33.5],[5.4,28],[5.8,20],[6.2,12],[6.5,5],[6.75,0],[7.0,3],[7.5,8.5],[8.0,12.5],[8.5,15.5],[9.0,17.5],[9.5,18.5],[10,19]];

// ---- RSN 1505 ----
const rsn1505_el_pulse = [[0.05,73],[0.15,80],[0.27,84.5],[0.35,78],[0.48,81],[0.55,80],[0.6,76],[0.75,74],[0.8,70],[0.88,65],[0.99,72.5],[1.2,72],[1.35,76],[1.5,77],[1.7,76.5],[1.79,79],[2.0,76],[2.15,73],[2.24,70],[2.43,74],[2.6,71],[2.75,63],[2.85,50],[2.96,46],[3.5,40],[4.0,33],[4.5,27],[4.96,20.5],[5.5,12],[6.0,8.5],[6.5,9],[7.0,9],[7.5,9],[8.0,7],[8.5,5],[9.0,4],[9.5,2.5],[10,1]];
const rsn1505_el_lf = [[0.05,72.5],[0.15,79.5],[0.27,84],[0.35,77.5],[0.48,80.5],[0.55,79.5],[0.6,75.5],[0.75,73.5],[0.8,69.5],[0.88,64.5],[0.99,72],[1.2,71.5],[1.35,75.5],[1.5,76.5],[1.7,76],[1.79,78.5],[2.0,75.5],[2.15,72.5],[2.24,69.5],[2.43,73.5],[2.6,70.5],[2.75,62.5],[2.85,49.5],[2.96,45.5],[3.5,39.5],[4.0,32.5],[4.5,26.5],[4.96,20],[5.5,11.5],[6.0,8],[6.5,8.5],[7.0,8.5],[7.5,8.5],[8.0,6.5],[8.5,4.5],[9.0,3.5],[9.5,2],[10,0.8]];
const rsn1505_el_ha = [[0.05,58],[0.15,70],[0.25,75],[0.35,68],[0.45,71],[0.55,68],[0.65,65],[0.8,58],[0.93,52],[1.05,62],[1.2,60],[1.35,65],[1.55,64],[1.7,60],[1.84,64.5],[2.0,62],[2.2,55],[2.3,46],[2.43,50.5],[2.6,48],[2.7,40],[2.85,20],[2.93,2],[3.1,6],[3.4,8.5],[3.8,9],[4.2,11],[4.6,15],[5.0,18],[5.52,20.5],[6.0,18],[6.5,12],[7.0,7],[7.5,3],[7.89,0],[8.5,4],[9.0,6],[9.5,6.5],[10,8.5]];
const rsn1505_el_mf = [[0.05,52],[0.15,67],[0.25,73],[0.4,59.5],[0.48,65],[0.55,63],[0.65,52],[0.75,50],[0.82,42],[0.88,33],[0.98,46],[1.1,42],[1.2,44],[1.35,52],[1.6,55],[1.75,53],[1.84,57],[2.0,55],[2.2,45],[2.24,40.5],[2.43,45],[2.6,40],[2.75,30],[2.85,15],[2.95,2],[3.3,7],[3.8,13],[4.24,16.5],[4.6,14.5],[5.0,10],[5.5,5],[6.0,1.8],[6.5,3],[7.0,4],[7.5,4],[8.0,3],[8.5,2.5],[9.0,1],[9.5,0],[10,1]];
const rsn1505_el_mp = [[0.05,63],[0.15,75],[0.25,79],[0.35,71],[0.45,75],[0.55,72],[0.65,70],[0.8,62],[0.93,53],[1.05,63],[1.2,62],[1.35,69],[1.6,70],[1.8,71.5],[2.0,70],[2.2,63],[2.45,63.5],[2.6,60],[2.75,50],[2.85,40],[3.04,38.5],[3.35,38.5],[3.5,34],[4.0,20],[4.5,6],[4.67,0],[5.0,6],[5.5,14],[6.0,24.5],[6.5,20],[7.0,16],[7.5,12],[8.0,8],[8.5,6],[9.0,5],[9.5,3.5],[10,1]];

const rsn1505_m2_pulse = [[0.05,66],[0.1,70],[0.15,68],[0.2,71],[0.3,67],[0.35,58],[0.45,64],[0.56,70],[0.65,64],[0.75,60],[0.9,58],[0.95,60],[1.03,66],[1.1,60],[1.23,54],[1.35,60],[1.5,66],[1.7,72],[1.9,70],[2.1,63],[2.3,57],[2.5,48],[2.7,41],[2.91,34],[3.1,32],[3.4,31],[3.79,32.7],[4.0,29],[4.3,22],[4.7,17],[5.0,15],[5.5,13.5],[6.0,11.5],[6.5,10],[7.0,8.5],[7.5,8],[8.0,7.5],[8.5,7],[9.0,6.5],[9.4,6],[9.6,1],[9.75,10],[10,21]];
const rsn1505_m2_lf = [[0.05,65.5],[0.1,69.5],[0.15,67.5],[0.2,70.5],[0.3,66.5],[0.35,57.5],[0.45,63.5],[0.56,69.5],[0.65,63.5],[0.75,59.5],[0.9,57.5],[0.95,59.5],[1.03,65.5],[1.1,59.5],[1.23,53.5],[1.35,59.5],[1.5,65.5],[1.7,71.5],[1.9,69.5],[2.1,62.5],[2.3,56.5],[2.5,47.5],[2.7,40.5],[2.91,33.5],[3.1,31.5],[3.4,30.5],[3.79,32],[4.0,28.5],[4.3,21.5],[4.7,16.5],[5.0,14.5],[5.5,13],[6.0,11],[6.5,9.5],[7.0,8],[7.5,7],[8.0,6],[8.5,5.5],[9.0,5],[9.3,4.5],[9.47,0],[9.7,5],[10,25]];
const rsn1505_m2_ha = [[0.05,46],[0.1,55],[0.15,60],[0.2,65],[0.3,63],[0.35,55],[0.45,58],[0.56,62],[0.65,57],[0.75,55],[0.9,54],[1.03,55],[1.12,48],[1.2,37],[1.35,45],[1.5,54],[1.7,58],[1.9,55],[2.1,45],[2.3,32],[2.5,22],[2.7,12],[2.9,4],[3.03,0],[3.3,7],[3.7,13],[4.2,17],[4.78,20],[5.2,18],[5.6,14.5],[6.0,12],[6.5,9],[7.0,6],[7.3,3],[7.6,0],[8.0,2],[8.5,3.5],[9.0,4.5],[9.32,6],[9.5,3],[9.67,0],[9.8,5],[10,18]];
const rsn1505_m2_mf = [[0.05,58],[0.1,63],[0.15,58],[0.2,66],[0.3,60],[0.35,62],[0.45,57],[0.56,60],[0.65,55],[0.75,50],[0.85,46],[0.95,45],[1.05,52],[1.15,38],[1.22,35],[1.35,44],[1.5,53],[1.7,57],[1.9,53],[2.1,42],[2.3,28],[2.5,18],[2.7,8],[2.9,1.5],[3.03,1],[3.3,3],[3.7,8],[4.14,11.5],[4.5,10],[5.0,9],[5.5,8.5],[6.0,7],[6.5,5.5],[7.0,4.5],[7.5,3.5],[8.0,3.5],[8.5,3.5],[8.92,3.7],[9.1,20],[9.25,40],[9.36,45],[9.6,42],[9.8,37],[10,28]];
const rsn1505_m2_mp = [[0.05,52],[0.1,58],[0.15,55],[0.2,61],[0.3,55],[0.35,41],[0.45,50],[0.56,59.5],[0.65,52],[0.75,46],[0.9,44],[0.95,43],[1.03,53],[1.12,40],[1.19,38],[1.35,48],[1.5,57],[1.7,62],[1.9,59],[2.1,50],[2.3,38],[2.5,30],[2.7,22],[2.91,18.5],[3.2,17],[3.5,16],[3.74,17],[4.0,12],[4.2,5],[4.38,0],[4.7,8],[5.0,11],[5.5,13.5],[6.02,14.5],[6.5,14],[7.0,12.5],[7.5,10.5],[8.0,8],[8.5,6],[9.0,5],[9.4,3.5],[9.6,2],[9.8,10],[10,28]];

const rsn1505_m4_pulse = [[0.05,58],[0.1,56],[0.15,59],[0.25,50],[0.32,48],[0.45,54],[0.56,57],[0.65,50],[0.8,51],[0.95,51.5],[1.05,49],[1.19,52],[1.3,53],[1.45,60],[1.62,67],[1.8,62],[2.0,48],[2.2,38],[2.5,31],[2.8,28],[3.1,26.5],[3.5,25],[3.98,25.5],[4.3,23],[4.6,20],[5.0,15],[5.12,9],[5.18,0],[5.3,20],[5.5,17],[5.7,10],[5.9,5],[6.05,0],[6.13,11],[6.5,10.5],[7.0,10],[8.0,8.5],[9.0,7],[10,5.5]];
const rsn1505_m4_lf = [[0.05,57],[0.1,55],[0.15,58],[0.25,49],[0.32,47],[0.45,53],[0.56,56],[0.65,49],[0.8,50],[0.95,50.5],[1.05,48],[1.19,51],[1.3,52],[1.45,59],[1.62,66.5],[1.8,60],[2.0,45],[2.2,36],[2.5,28],[2.8,25],[3.1,23],[3.5,22],[3.98,22],[4.3,20],[4.6,16],[4.9,11],[5.1,5],[5.2,0],[5.28,2],[5.33,30],[5.6,28],[5.9,24],[6.1,18],[6.3,10],[6.5,3],[6.58,0],[6.7,10],[7.0,10],[8.0,8.5],[9.0,7],[10,5.5]];
const rsn1505_m4_ha = [[0.05,37],[0.1,42],[0.15,38],[0.25,30],[0.35,33],[0.45,36],[0.56,40],[0.65,35],[0.8,37],[0.95,36],[1.05,33],[1.2,38],[1.4,45],[1.62,53],[1.8,45],[2.0,30],[2.2,18],[2.5,10],[2.8,4],[3.14,0],[3.5,1],[4.0,4],[4.5,3],[5.0,1],[5.25,5],[5.33,35],[5.6,25],[5.8,15],[6.0,8],[6.2,3],[6.4,5],[6.6,8],[7.0,9.5],[7.5,11],[8.0,12.5],[8.5,13],[9.0,13.5],[10,15]];
const rsn1505_m4_mf = [[0.05,52],[0.1,56],[0.15,57],[0.25,48],[0.35,46],[0.45,50],[0.56,55],[0.65,48],[0.8,44],[0.95,43],[1.02,38.5],[1.2,42],[1.4,48],[1.62,54],[1.8,44],[2.0,28],[2.2,15],[2.5,7],[2.8,3],[3.2,2],[3.5,3],[3.9,5.5],[4.3,5],[4.7,3.5],[5.0,1],[5.2,0],[5.33,35],[5.55,25],[5.7,10],[5.85,0],[6.0,5],[6.3,6],[6.7,5],[7.2,4],[8.0,2],[8.5,1],[9.0,0.5],[10,0.5]];
const rsn1505_m4_mp = [[0.05,38],[0.1,44],[0.15,38],[0.2,32],[0.27,27.5],[0.35,32],[0.45,37],[0.56,40],[0.65,34],[0.8,35],[0.95,34],[1.04,30.5],[1.2,36],[1.4,44],[1.6,52],[1.65,53],[1.8,48],[2.0,35],[2.2,22],[2.5,13],[2.8,7],[3.1,5],[3.4,3],[3.74,3],[4.0,3],[4.35,0],[4.6,5],[4.9,12],[5.1,20],[5.22,40],[5.3,55.5],[5.6,52],[5.9,45],[6.1,35],[6.2,15],[6.27,3],[6.5,2.5],[7.0,1.5],[7.36,0],[8.0,2],[8.5,2.5],[9.0,3],[9.5,3.5],[10,4.5]];

const rsn1505_m6_pulse = [[0.05,53],[0.1,48],[0.2,44],[0.3,45],[0.4,42],[0.5,44],[0.6,41],[0.7,45],[0.8,43],[0.9,41],[1.0,43],[1.1,47],[1.25,51],[1.43,54],[1.55,50],[1.7,42],[1.85,34],[2.0,29.5],[2.2,28.5],[2.5,30],[2.73,31],[2.9,28],[3.1,22],[3.3,12],[3.37,5],[3.5,3],[3.6,5],[3.7,10],[4.0,13.5],[4.5,12],[5.0,10.5],[5.5,9],[6.0,8],[6.5,7],[7.0,6],[7.5,5],[8.0,4],[9.0,3],[10,2.5]];
const rsn1505_m6_lf = [[0.05,52],[0.1,47],[0.2,43],[0.3,44],[0.4,41],[0.5,43],[0.6,40],[0.7,44],[0.8,42],[0.9,40],[1.0,42],[1.1,46],[1.25,50],[1.43,53],[1.55,49],[1.7,40],[1.85,31],[2.0,27],[2.2,26.5],[2.5,27],[2.7,27.5],[2.9,25],[3.1,18],[3.3,8],[3.5,4],[3.7,3.5],[4.0,2],[4.2,0.5],[4.32,0],[4.4,3],[4.5,7],[4.56,10.6],[5.0,10],[5.5,9],[6.0,8],[7.0,6.5],[8.0,4.5],[9.0,3.5],[10,2.5]];
const rsn1505_m6_ha = [[0.05,38],[0.1,30],[0.2,25],[0.3,29],[0.4,23],[0.5,27],[0.6,21],[0.7,26],[0.8,22],[0.9,25],[1.0,24],[1.1,29],[1.25,33],[1.4,36],[1.54,38],[1.7,25],[1.85,18],[2.0,11],[2.2,12],[2.5,14],[2.73,15],[2.9,14],[3.1,8],[3.3,5],[3.6,3],[3.9,2],[4.2,1],[4.4,0],[4.8,3],[5.3,6],[5.8,8.5],[6.3,11],[6.8,12.5],[7.5,14],[8.0,14.5],[8.5,15],[9.0,15.5],[10,17]];
const rsn1505_m6_mf = [[0.05,50],[0.1,45],[0.2,44],[0.3,42],[0.4,40],[0.5,43],[0.6,38],[0.7,40],[0.8,38],[0.9,35],[0.98,33],[1.15,37],[1.3,40],[1.43,41.3],[1.6,36],[1.75,24],[1.9,15],[2.02,9.7],[2.2,11],[2.5,12.5],[2.73,13.8],[2.9,12],[3.1,8],[3.3,3],[3.37,0],[3.44,17],[3.8,13],[4.0,10],[4.15,5],[4.27,0],[4.45,10],[4.8,8],[5.3,6],[5.8,4.5],[6.3,3],[6.8,2],[7.17,0.5],[7.8,1.5],[8.5,2],[9.0,2],[10,2]];
const rsn1505_m6_mp = [[0.05,38],[0.1,30],[0.15,25],[0.2,28],[0.3,21],[0.4,26],[0.5,18],[0.6,24],[0.7,19],[0.8,24],[0.9,20],[1.0,23],[1.1,28],[1.25,32],[1.4,36],[1.49,39.4],[1.6,28],[1.75,15],[1.9,8],[2.02,7],[2.3,8],[2.6,7.5],[2.8,5],[3.05,0],[3.2,12],[3.35,28],[3.44,30.3],[3.6,26],[3.75,15],[3.84,10],[4.0,10.5],[4.48,11],[5.0,10],[5.5,7.5],[6.0,5],[6.5,3],[7.0,1.5],[7.52,0],[8.0,2],[8.5,2.5],[9.0,2.5],[9.5,3],[10,4.5]];

// grid of panels [row][col] -> series in order Pulse, LF+Pulse, HA, MF, MP
const panelSeries = [
  [[rsn143_el_pulse,rsn143_el_lf,rsn143_el_ha,rsn143_el_mf,rsn143_el_mp],
   [rsn143_m2_pulse,rsn143_m2_lf,rsn143_m2_ha,rsn143_m2_mf,rsn143_m2_mp],
   [rsn143_m4_pulse,rsn143_m4_lf,rsn143_m4_ha,rsn143_m4_mf,rsn143_m4_mp],
   [rsn143_m6_pulse,rsn143_m6_lf,rsn143_m6_ha,rsn143_m6_mf,rsn143_m6_mp]],
  [[rsn4107_el_pulse,rsn4107_el_lf,rsn4107_el_ha,rsn4107_el_mf,rsn4107_el_mp],
   [rsn4107_m2_pulse,rsn4107_m2_lf,rsn4107_m2_ha,rsn4107_m2_mf,rsn4107_m2_mp],
   [rsn4107_m4_pulse,rsn4107_m4_lf,rsn4107_m4_ha,rsn4107_m4_mf,rsn4107_m4_mp],
   [rsn4107_m6_pulse,rsn4107_m6_lf,rsn4107_m6_ha,rsn4107_m6_mf,rsn4107_m6_mp]],
  [[rsn2114_el_pulse,rsn2114_el_lf,rsn2114_el_ha,rsn2114_el_mf,rsn2114_el_mp],
   [rsn2114_m2_pulse,rsn2114_m2_lf,rsn2114_m2_ha,rsn2114_m2_mf,rsn2114_m2_mp],
   [rsn2114_m4_pulse,rsn2114_m4_lf,rsn2114_m4_ha,rsn2114_m4_mf,rsn2114_m4_mp],
   [rsn2114_m6_pulse,rsn2114_m6_lf,rsn2114_m6_ha,rsn2114_m6_mf,rsn2114_m6_mp]],
  [[rsn1505_el_pulse,rsn1505_el_lf,rsn1505_el_ha,rsn1505_el_mf,rsn1505_el_mp],
   [rsn1505_m2_pulse,rsn1505_m2_lf,rsn1505_m2_ha,rsn1505_m2_mf,rsn1505_m2_mp],
   [rsn1505_m4_pulse,rsn1505_m4_lf,rsn1505_m4_ha,rsn1505_m4_mf,rsn1505_m4_mp],
   [rsn1505_m6_pulse,rsn1505_m6_lf,rsn1505_m6_ha,rsn1505_m6_mf,rsn1505_m6_mp]]
];

// --- styling / layout (not data) ---
const colors = ['#0000ff', '#000000', '#ffff00', '#00ffff', '#ff0000'];
const widths = [3.5, 3, 1.7, 2, 1.8];
const drawOrder = [4, 3, 2, 1, 0];
const colLeft = [81, 568, 1059, 1547];
const rowTop = [90, 345, 597, 850];
const plotW = 371, plotH = 182;
const padL = 50, padT = 12, padR = 14, padB = 34;

// where the "RSN ..." and case labels sit, in axis units
const rsnLabelAt = [
  [[3.36,83.6],[2.87,83.6],[2.93,82.7],[2.58,81.8]],
  [[2.93,76],[2.33,76],[2.42,77],[2.61,68.6]],
  [[2.65,69.7],[2.04,68.8],[2.37,64.2],[2.42,67]],
  [[2.65,87.2],[2.2,84.4],[1.93,81.1],[1.85,81.1]]
];
const caseLabelAt = [
  [[8.16,49],[6.77,54.7],[8.32,60.9],[8.4,53.6]],
  [[8.49,52],[7.69,49.3],[8.53,45.6],[8.64,49.3]],
  [[8.6,56],[8.04,44],[8.66,44],[8.4,45]],
  [[8.73,49.5],[8.53,48.6],[8.8,47.7],[8.64,46.2]]
];

// legend
const legend = document.getElementById('legend');
const lgLine = [7, 127, 278, 380, 483];
const lgText = [73, 192, 344, 447, 549];
seriesNames.forEach((n, i) => {
  let l = document.createElement('div');
  l.className = 'lg-line';
  l.style.left = lgLine[i] + 'px';
  l.style.width = '60px';
  l.style.top = (i < 2 ? 38 : 38.5) + 'px';
  l.style.height = (i < 2 ? 3 : 2) + 'px';
  l.style.background = colors[i];
  legend.appendChild(l);
  let t = document.createElement('div');
  t.className = 'lg-text';
  t.style.left = lgText[i] + 'px';
  t.style.top = '32px';
  t.textContent = n;
  legend.appendChild(t);
});

// inward tick marks + panel annotations
const panelDecor = {
  id: 'panelDecor',
  afterDatasetsDraw(chart, args, opts) {
    const ctx = chart.ctx, a = chart.chartArea;
    const xs = chart.scales.x, ys = chart.scales.y;
    const r = opts.row, c = opts.col;
    ctx.save();
    ctx.strokeStyle = '#262626';
    ctx.lineWidth = 1;
    ctx.beginPath();
    xTicks.forEach(v => {
      const px = Math.round(xs.getPixelForValue(v)) - 0.5;
      ctx.moveTo(px, a.bottom);
      ctx.lineTo(px, a.bottom - 5);
    });
    yTicks.forEach(v => {
      const py = Math.round(ys.getPixelForValue(v)) + 0.5;
      ctx.moveTo(a.left, py);
      ctx.lineTo(a.left + 5, py);
    });
    ctx.stroke();

    ctx.fillStyle = '#000';
    ctx.textBaseline = 'middle';
    ctx.textAlign = 'left';
    const sans = '20px "Liberation Sans", Arial, sans-serif';
    const greek = 'italic 20px "Liberation Serif", serif';
    // RSN label
    ctx.font = sans;
    let p = rsnLabelAt[r][c];
    let w = ctx.measureText(rsnNames[r]).width;
    ctx.fillText(rsnNames[r], xs.getPixelForValue(p[0]) - w / 2, ys.getPixelForValue(p[1]));
    // case label
    p = caseLabelAt[r][c];
    const cx = xs.getPixelForValue(p[0]), cy = ys.getPixelForValue(p[1]);
    if (c === 0) {
      w = ctx.measureText(caseNames[0]).width;
      ctx.fillText(caseNames[0], cx - w / 2, cy);
    } else {
      ctx.font = greek;
      const wm = ctx.measureText('\u03bc').width;
      ctx.font = sans;
      const rest = '=' + caseNames[c];
      const wr = ctx.measureText(rest).width;
      const x0 = cx - (wm + wr) / 2;
      ctx.font = greek;
      ctx.fillText('\u03bc', x0, cy + 2);
      ctx.font = sans;
      ctx.fillText(rest, x0 + wm, cy);
    }
    ctx.restore();
  }
};

const page = document.getElementById('page');
const tickFont = {family: '"Liberation Sans", Arial, sans-serif', size: 16};

for (let r = 0; r < 4; r++) {
  for (let c = 0; c < 4; c++) {
    const cv = document.createElement('canvas');
    const W = padL + plotW + padR, H = padT + plotH + padB;
    cv.width = W; cv.height = H;
    cv.style.left = (colLeft[c] - padL) + 'px';
    cv.style.top = (rowTop[r] - padT) + 'px';
    cv.style.width = W + 'px'; cv.style.height = H + 'px';
    page.appendChild(cv);

    const datasets = panelSeries[r][c].map((pts, i) => ({
      label: seriesNames[i],
      data: pts.map(p => ({x: p[0], y: p[1]})),
      borderColor: colors[i],
      borderWidth: widths[i],
      pointRadius: 0,
      fill: false,
      cubicInterpolationMode: 'monotone',
      order: drawOrder[i]
    }));

    new Chart(cv, {
      type: 'line',
      data: {datasets: datasets},
      options: {
        responsive: false,
        animation: false,
        devicePixelRatio: 1,
        layout: {padding: {top: padT, right: padR, left: 0, bottom: 0}},
        plugins: {
          legend: {display: false},
          tooltip: {enabled: false},
          panelDecor: {row: r, col: c}
        },
        scales: {
          x: {
            type: 'linear', min: 0, max: 10,
            afterBuildTicks: s => { s.ticks = xTicks.map(v => ({value: v})); },
            afterFit: s => { s.height = padB; },
            grid: {display: false, drawTicks: false},
            border: {display: true, color: '#262626', width: 1},
            ticks: {font: tickFont, color: '#262626', padding: 10, maxRotation: 0, autoSkip: false}
          },
          y: {
            min: 0, max: 100,
            afterBuildTicks: s => { s.ticks = yTicks.map(v => ({value: v})); },
            afterFit: s => { s.width = padL; },
            grid: {display: false, drawTicks: false},
            border: {display: true, color: '#262626', width: 1},
            ticks: {font: tickFont, color: '#262626', padding: 7}
          }
        }
      },
      plugins: [panelDecor]
    });
  }
}
</script>
</body>
</html>
